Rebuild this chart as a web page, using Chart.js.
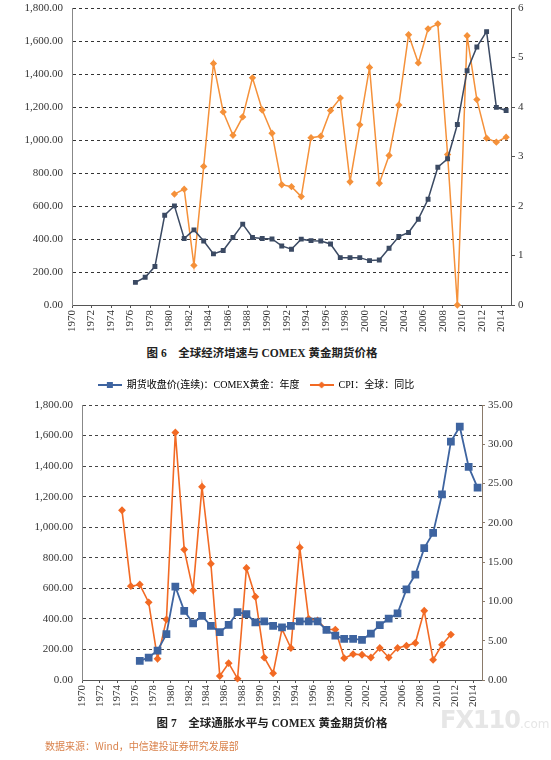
<!DOCTYPE html>
<html>
<head>
<meta charset="utf-8">
<script src="https://cdn.jsdelivr.net/npm/chart.js@4.4.1/dist/chart.umd.min.js"></script>
<style>
  html, body { margin: 0; padding: 0; background: #fff; }
  body { width: 551px; height: 760px; position: relative; overflow: hidden; }
  canvas { position: absolute; }
  #c1 { left: 0; top: 0; }
  #c2 { left: -40px; top: 370px; }
  .cap { position: absolute; font-family: "Liberation Serif", "Noto Sans CJK SC", serif; font-weight: bold; font-size: 11.5px; color: #222; white-space: nowrap; transform: translateX(-50%); }
  .src { position: absolute; left: 45px; top: 738px; font-family: "Noto Sans CJK SC", sans-serif; font-size: 10px; color: #d9814a; }
  .wm { position: absolute; left: 440px; top: 706px; font-family: "DejaVu Sans", sans-serif; font-weight: bold; font-size: 24px; color: #e6e6e6; letter-spacing: -1px; }
  .wm span { font-size: 12px; font-weight: normal; letter-spacing: 0; }
</style>
</head>
<body>
<canvas id="c1" width="551" height="340"></canvas>
<div class="cap" style="left:262px; top:344px;">图 6　全球经济增速与 COMEX 黄金期货价格</div>
<canvas id="c2" width="592" height="345"></canvas>
<div class="wm">FX110<span>.com</span></div>
<div class="cap" style="left:272px; top:714px;">图 7　全球通胀水平与 COMEX 黄金期货价格</div>
<div class="src">数据来源：Wind，中信建投证券研究发展部</div>

<script>
// chart 6: gold futures price (left) and world GDP growth (right)
var goldYears = [1976, 1977, 1978, 1979, 1980, 1981, 1982, 1983, 1984, 1985,
                 1986, 1987, 1988, 1989, 1990, 1991, 1992, 1993, 1994, 1995,
                 1996, 1997, 1998, 1999, 2000, 2001, 2002, 2003, 2004, 2005,
                 2006, 2007, 2008, 2009, 2010, 2011, 2012, 2013, 2014];
var gold6 = [137, 168, 233, 544, 601, 403, 455, 388, 310, 330,
             409, 490, 409, 403, 400, 358, 338, 399, 390, 388,
             370, 287, 287, 287, 269, 273, 344, 415, 439, 520,
             641, 835, 886, 1094, 1420, 1564, 1657, 1198, 1179];
var gdpYears = [1980, 1981, 1982, 1983, 1984, 1985, 1986, 1987, 1988, 1989,
                1990, 1991, 1992, 1993, 1994, 1995, 1996, 1997, 1998, 1999,
                2000, 2001, 2002, 2003, 2004, 2005, 2006, 2007, 2008, 2009,
                2010, 2011, 2012, 2013, 2014];
var gdp = [2.24, 2.34, 0.80, 2.80, 4.88, 3.90, 3.43, 3.80, 4.59, 3.94,
           3.47, 2.43, 2.39, 2.19, 3.38, 3.41, 3.93, 4.18, 2.49, 3.64,
           4.80, 2.46, 3.02, 4.04, 5.46, 4.89, 5.58, 5.68, 3.04, 0,
           5.44, 4.15, 3.37, 3.29, 3.39];

// chart 7: gold futures price (left) and world CPI yoy (right)
var gold7 = [125, 147, 193, 300, 611, 453, 370, 420, 355, 313,
             361, 444, 431, 377, 383, 355, 344, 355, 383, 383,
             383, 328, 291, 269, 269, 263, 304, 359, 401, 436,
             593, 690, 863, 963, 1215, 1561, 1658, 1395, 1259];
var cpiYears = [1974, 1975, 1976, 1977, 1978, 1979, 1980, 1981, 1982, 1983,
                1984, 1985, 1986, 1987, 1988, 1989, 1990, 1991, 1992, 1993,
                1994, 1995, 1996, 1997, 1998, 1999, 2000, 2001, 2002, 2003,
                2004, 2005, 2006, 2007, 2008, 2009, 2010, 2011];
var cpi = [21.6, 11.94, 12.15, 9.88, 2.70, 7.70, 31.5, 16.6, 11.4, 24.6,
           14.8, 0.51, 2.14, 0.17, 14.25, 10.6, 2.87, 0.86, 6.5, 4.07,
           16.86, 7.79, 7.57, 6.42, 6.42, 2.78, 3.29, 3.21, 2.87, 4.07,
           2.87, 4.07, 4.36, 4.71, 8.81, 2.57, 4.49, 5.78];

var xTicks = [1970, 1972, 1974, 1976, 1978, 1980, 1982, 1984, 1986, 1988,
              1990, 1992, 1994, 1996, 1998, 2000, 2002, 2004, 2006, 2008,
              2010, 2012, 2014];

var goldLabel = '期货收盘价(连续)：COMEX黄金：年度';
var cpiLabel = 'CPI：全球：同比';

var serif = '"Liberation Serif", "Times New Roman", serif';

// each year sits in the middle of its slot, ticks on the slot edges
function pts(years, vals) {
    return years.map(function(y, i) { return { x: y + 0.5, y: vals[i] }; });
}

function money(v) {
    return Number(v).toLocaleString('en-US', { minimumFractionDigits: 2, maximumFractionDigits: 2 });
}

// fixed axis width, and no extra room reserved above/below for the end labels
function fixWidth(w) {
    return function(s) {
        s.width = w;
        s.paddingTop = 0;
        s.paddingBottom = 0;
    };
}

function xAxis(h) {
    return {
        type: 'linear',
        min: 1970,
        max: 2015,
        afterBuildTicks: function(s) {
            s.ticks = xTicks.map(function(v) { return { value: v }; });
        },
        afterFit: function(s) { s.height = h; },
        ticks: {
            autoSkip: false,
            minRotation: 90,
            maxRotation: 90,
            padding: 2,
            color: '#333',
            font: { family: serif, size: 11 },
            callback: function(v) { return String(v); }
        },
        grid: { drawOnChartArea: false, drawTicks: true, tickLength: 3, color: '#555' },
        border: { display: true, color: '#555', width: 1 }
    };
}

new Chart(document.getElementById('c1'), {
    type: 'line',
    data: {
        datasets: [{
            label: goldLabel,
            data: pts(goldYears, gold6),
            yAxisID: 'y',
            borderColor: '#3b4a63',
            backgroundColor: '#3b4a63',
            borderWidth: 1.5,
            pointStyle: 'rect',
            pointRadius: 2.4,
            pointHoverRadius: 2.4,
            tension: 0,
            clip: false
        }, {
            label: '全球经济增速',
            data: pts(gdpYears, gdp),
            yAxisID: 'y1',
            borderColor: '#f5913a',
            backgroundColor: '#f5913a',
            borderWidth: 1.5,
            pointStyle: 'rectRot',
            pointRadius: 2.6,
            pointHoverRadius: 2.6,
            tension: 0,
            clip: false
        }]
    },
    options: {
        responsive: false,
        animation: false,
        layout: { padding: { top: 8, left: 0, right: 0, bottom: 0 } },
        plugins: { legend: { display: false }, tooltip: { enabled: false } },
        scales: {
            x: xAxis(35),
            y: {
                position: 'left',
                min: 0,
                max: 1800,
                afterFit: fixWidth(72),
                ticks: {
                    stepSize: 200,
                    padding: 9,
                    color: '#333',
                    font: { family: serif, size: 11 },
                    callback: money
                },
                grid: { color: '#333', lineWidth: 1, drawTicks: false },
                border: { display: true, color: '#888', width: 1, dash: [3, 3] }
            },
            y1: {
                position: 'right',
                min: 0,
                max: 6,
                afterFit: fixWidth(40),
                ticks: {
                    stepSize: 1,
                    padding: 3,
                    color: '#333',
                    font: { family: serif, size: 11 }
                },
                grid: { drawOnChartArea: false, drawTicks: true, tickLength: 4, color: '#555' },
                border: { display: true, color: '#555', width: 1 }
            }
        }
    }
});

// line + marker icons for the legend
function legendIcon(color, shape) {
    var c = document.createElement('canvas');
    c.width = 24;
    c.height = 10;
    var g = c.getContext('2d');
    g.strokeStyle = color;
    g.lineWidth = 2;
    g.beginPath();
    g.moveTo(0, 5);
    g.lineTo(24, 5);
    g.stroke();
    g.fillStyle = color;
    if (shape === 'rect') {
        g.fillRect(9, 2, 6, 6);
    } else {
        g.beginPath();
        g.moveTo(12, 1.5);
        g.lineTo(15.5, 5);
        g.lineTo(12, 8.5);
        g.lineTo(8.5, 5);
        g.closePath();
        g.fill();
    }
    return c;
}

var icons = [legendIcon('#3e64a0', 'rect'), legendIcon('#f26a24', 'diamond')];

var legendGap = {
    id: 'legendGap',
    beforeInit: function(chart) {
        if (!chart.legend) return;
        var fit = chart.legend.fit;
        chart.legend.fit = function() {
            fit.call(this);
            this.height += 5;
        };
    }
};

new Chart(document.getElementById('c2'), {
    type: 'line',
    plugins: [legendGap],
    data: {
        datasets: [{
            label: goldLabel,
            data: pts(goldYears, gold7),
            yAxisID: 'y',
            borderColor: '#3e64a0',
            backgroundColor: '#3e64a0',
            borderWidth: 1.8,
            pointStyle: 'rect',
            pointRadius: 4.2,
            pointHoverRadius: 4.2,
            tension: 0,
            clip: false
        }, {
            label: cpiLabel,
            data: pts(cpiYears, cpi),
            yAxisID: 'y1',
            borderColor: '#f26a24',
            backgroundColor: '#f26a24',
            borderWidth: 1.6,
            pointStyle: 'rectRot',
            pointRadius: 2.8,
            pointHoverRadius: 2.8,
            tension: 0,
            clip: false
        }]
    },
    options: {
        responsive: false,
        animation: false,
        layout: { padding: 0 },
        plugins: {
            tooltip: { enabled: false },
            legend: {
                display: true,
                position: 'top',
                labels: {
                    usePointStyle: true,
                    pointStyleWidth: 24,
                    padding: 10,
                    color: '#333',
                    font: { family: '"Liberation Serif", "Noto Sans CJK SC", serif', size: 10 },
                    generateLabels: function(chart) {
                        return chart.data.datasets.map(function(ds, i) {
                            return {
                                text: ds.label,
                                pointStyle: icons[i],
                                fillStyle: ds.borderColor,
                                strokeStyle: ds.borderColor,
                                lineWidth: 0,
                                hidden: false,
                                datasetIndex: i
                            };
                        });
                    }
                }
            }
        },
        scales: {
            x: xAxis(35),
            y: {
                position: 'left',
                min: 0,
                max: 1800,
                afterFit: fixWidth(122),
                ticks: {
                    stepSize: 200,
                    padding: 9,
                    color: '#333',
                    font: { family: serif, size: 11 },
                    callback: money
                },
                grid: { color: '#444', lineWidth: 1, drawTicks: false },
                border: { display: true, color: '#888', width: 1, dash: [3, 3] }
            },
            y1: {
                position: 'right',
                min: 0,
                max: 35,
                afterFit: fixWidth(70),
                ticks: {
                    stepSize: 5,
                    padding: 3,
                    color: '#333',
                    font: { family: serif, size: 11 },
                    callback: function(v) { return Number(v).toFixed(2); }
                },
                grid: { drawOnChartArea: false, drawTicks: true, tickLength: 3, color: '#8a7a6a' },
                border: { display: true, color: '#8a7a6a', width: 1 }
            }
        }
    }
});
</script>
</body>
</html>
